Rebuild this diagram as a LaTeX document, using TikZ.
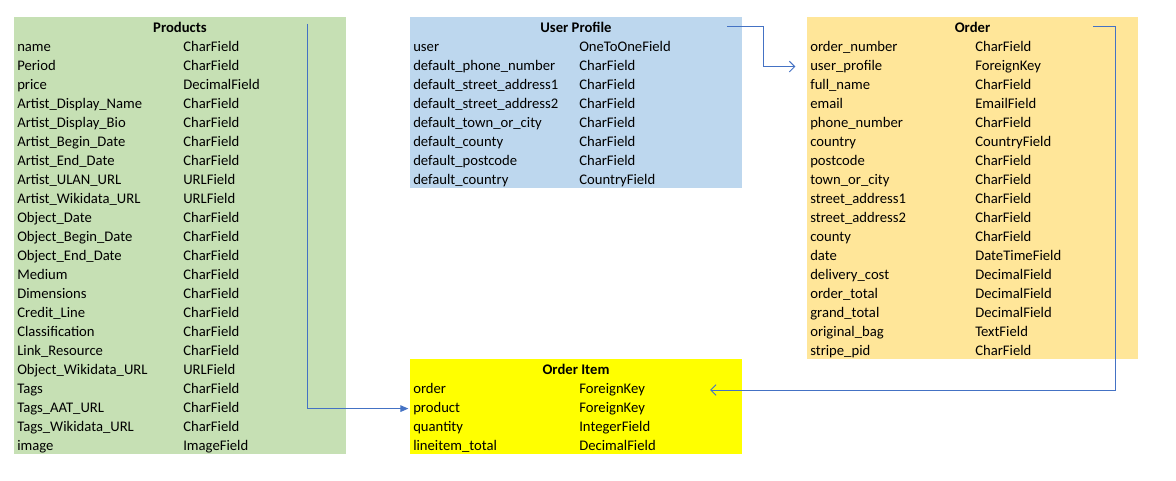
\documentclass[tikz,border=0pt]{standalone}
\usepackage{fontspec}
\setmainfont{Carlito}
\usetikzlibrary{calc,fit,positioning,arrows.meta}
\definecolor{prodgreen}{HTML}{C6E0B4}
\definecolor{userblue}{HTML}{BDD7EE}
\definecolor{ordergold}{HTML}{FFE699}
\definecolor{itemyellow}{HTML}{FFFF00}
\definecolor{linkblue}{HTML}{4472C4}
\tikzset{
    tablebox/.style={draw=none,inner sep=0pt},
    tabletitle/.style={anchor=base,node font=\bfseries,inner sep=0pt},
    fieldname/.style={anchor=base west,inner sep=0pt},
    fieldtype/.style={anchor=base west,inner sep=0pt},
    link/.style={draw=linkblue,line width=0.75pt},
    opentip/.style={-{Straight Barb[length=4pt,width=8pt]}},
    filltip/.style={-{Triangle[length=6pt,width=5pt]}},
}

\begin{document}
\begin{tikzpicture}[x=0.75pt,y=-0.75pt,font=\fontsize{11}{13}\selectfont]
\useasboundingbox (0,0) rectangle (1176,481);

\node[tablebox,fill=prodgreen,fit={(14,17) (346,454)}]   (products) {};
\node[tabletitle] (prod-title) at (180,32.5) {Products};
\foreach \f/\t [count=\i] in {name/CharField, Period/CharField, price/DecimalField,
    Artist\_Display\_Name/CharField, Artist\_Display\_Bio/CharField,
    Artist\_Begin\_Date/CharField, Artist\_End\_Date/CharField,
    Artist\_ULAN\_URL/URLField, Artist\_Wikidata\_URL/URLField,
    Object\_Date/CharField, Object\_Begin\_Date/CharField, Object\_End\_Date/CharField,
    Medium/CharField, Dimensions/CharField, Credit\_Line/CharField,
    Classification/CharField, Link\_Resource/CharField, Object\_Wikidata\_URL/URLField,
    Tags/CharField, Tags\_AAT\_URL/CharField, Tags\_Wikidata\_URL/CharField, image/ImageField}
{
  \node[fieldname] (prod-\i) at (17,{32.5+19*\i}) {\f};
  \node[fieldtype] (prodt-\i) at (183,{32.5+19*\i}) {\t};
}

\node[tablebox,fill=userblue,fit={(410,17) (742,188)}]   (profile) {};
\node[tabletitle] (up-title) at (576,32.5) {User Profile};
\foreach \f/\t [count=\i] in {user/OneToOneField, default\_phone\_number/CharField,
    default\_street\_address1/CharField, default\_street\_address2/CharField,
    default\_town\_or\_city/CharField, default\_county/CharField,
    default\_postcode/CharField, default\_country/CountryField}
{
  \node[fieldname] (up-\i) at (413,{32.5+19*\i}) {\f};
  \node[fieldtype] (upt-\i) at (579,{32.5+19*\i}) {\t};
}

\node[tablebox,fill=ordergold,fit={(807,17) (1138,359)}]   (order) {};
\node[tabletitle] (ord-title) at (972.5,32.5) {Order};
\foreach \f/\t [count=\i] in {order\_number/CharField, user\_profile/ForeignKey,
    full\_name/CharField, email/EmailField, phone\_number/CharField,
    country/CountryField, postcode/CharField, town\_or\_city/CharField,
    street\_address1/CharField, street\_address2/CharField, county/CharField,
    date/DateTimeField, delivery\_cost/DecimalField, order\_total/DecimalField,
    grand\_total/DecimalField, original\_bag/TextField, stripe\_pid/CharField}
{
  \node[fieldname] (ord-\i) at (810,{32.5+19*\i}) {\f};
  \node[fieldtype] (ordt-\i) at (975,{32.5+19*\i}) {\t};
}

\node[tablebox,fill=itemyellow,fit={(410,359) (742,454)}]   (orderitem) {};
\node[tabletitle] (item-title) at (576,374.5) {Order Item};
\foreach \f/\t [count=\i] in {order/ForeignKey, product/ForeignKey,
    quantity/IntegerField, lineitem\_total/DecimalField}
{
  \node[fieldname] (item-\i) at (413,{374.5+19*\i}) {\f};
  \node[fieldtype] (itemt-\i) at (579,{374.5+19*\i}) {\t};
}

\coordinate (prod-out) at (307,24);
\coordinate (up-out)   at (727,27);
\coordinate (ord-out)  at (1093,27);
\coordinate (item-in)  at (710,390);

\draw[link,filltip,shorten >=3.5pt] (prod-out) |- (item-2.west);
\draw[link,opentip,shorten >=11pt] (up-out) -- ++(36,0) |- (ord-2.west);
\draw[link,opentip] (ord-out) -- ++(22,0) |- (item-in);
\end{tikzpicture}
\end{document}
